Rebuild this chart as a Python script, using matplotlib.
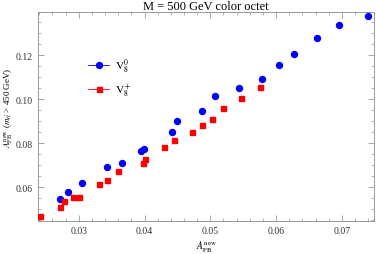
import matplotlib.pyplot as plt
from matplotlib.ticker import MultipleLocator
from matplotlib.lines import Line2D

plt.rcParams['font.family'] = 'Liberation Serif'
plt.rcParams['mathtext.fontset'] = 'stix'

# V8^0 (blue circles)
v0_x = [0.0271, 0.0284, 0.0305, 0.0343, 0.0365, 0.0395, 0.0399, 0.0442, 0.0450, 0.0488,
        0.0507, 0.0544, 0.0578, 0.0604, 0.0627, 0.0662, 0.0695, 0.0740]
v0_y = [0.0547, 0.0579, 0.0620, 0.0691, 0.0712, 0.0765, 0.0775, 0.0850, 0.0901, 0.0945,
        0.1014, 0.1051, 0.1091, 0.1156, 0.1207, 0.1277, 0.1336, 0.1377]

# V8^+ (red squares)
vp_x = [0.0241, 0.0272, 0.0278, 0.0292, 0.0301, 0.0331, 0.0343, 0.0360, 0.0398, 0.0400,
        0.0429, 0.0445, 0.0472, 0.0487, 0.0503, 0.0520, 0.0547, 0.0576]
vp_y = [0.0468, 0.0510, 0.0539, 0.0557, 0.0557, 0.0614, 0.0633, 0.0673, 0.0710, 0.0730,
        0.0783, 0.0816, 0.0850, 0.0882, 0.0909, 0.0959, 0.1007, 0.1056]

fig = plt.figure(figsize=(3.76, 2.55), dpi=100)
ax = fig.add_axes([0.101, 0.129, 0.894, 0.820])

ax.plot(v0_x, v0_y, 'o', color='#0000ff', markersize=4.3, zorder=3)
ax.plot(vp_x, vp_y, 's', color='#ff0000', markersize=3.6, zorder=3)

ax.set_xlim(0.0238, 0.0749)
ax.set_ylim(0.0447, 0.1397)

ax.xaxis.set_major_locator(MultipleLocator(0.01))
ax.xaxis.set_minor_locator(MultipleLocator(0.002))
ax.yaxis.set_major_locator(MultipleLocator(0.02))
ax.yaxis.set_minor_locator(MultipleLocator(0.005))
ax.xaxis.set_major_formatter(plt.FuncFormatter(lambda v, p: f"{v:.2f}"))
ax.yaxis.set_major_formatter(plt.FuncFormatter(lambda v, p: f"{v:.2f}"))

ax.tick_params(which='both', direction='in', top=True, right=True,
               color='#999999', labelsize=7, labelcolor='#333333')
ax.tick_params(axis='x', which='major', pad=3.5)
ax.tick_params(axis='y', which='major', pad=4)
ax.tick_params(which='major', length=4, width=0.6)
ax.tick_params(which='minor', length=2, width=0.5)
for s in ax.spines.values():
    s.set_color('#999999')
    s.set_linewidth(0.7)

ax.set_title('M = 500 GeV color octet', fontsize=9, pad=2.5)
ax.set_xlabel(r'$A_{\rm FB}^{\rm new}$', fontsize=7)
ax.xaxis.set_label_coords(0.5, -0.08)
ax.set_ylabel(r'$A_{\rm FB}^{\rm new}$ ($m_{t\bar{t}}$ > 450 GeV)', fontsize=6.5)
ax.yaxis.set_label_coords(-0.068, 0.545)

handles = [Line2D([], [], color='#0000ff', marker='o', markersize=4.3, lw=0.6),
           Line2D([], [], color='#ff0000', marker='s', markersize=3.6, lw=0.6)]
ax.legend(handles, [r'$\mathrm{V}_8^0$', r'$\mathrm{V}_8^+$'], loc='upper left',
          bbox_to_anchor=(0.12, 0.835), frameon=False, fontsize=8,
          handlelength=1.9, labelspacing=0.6, handletextpad=0.5)

fig.savefig('out.png', dpi=100)
